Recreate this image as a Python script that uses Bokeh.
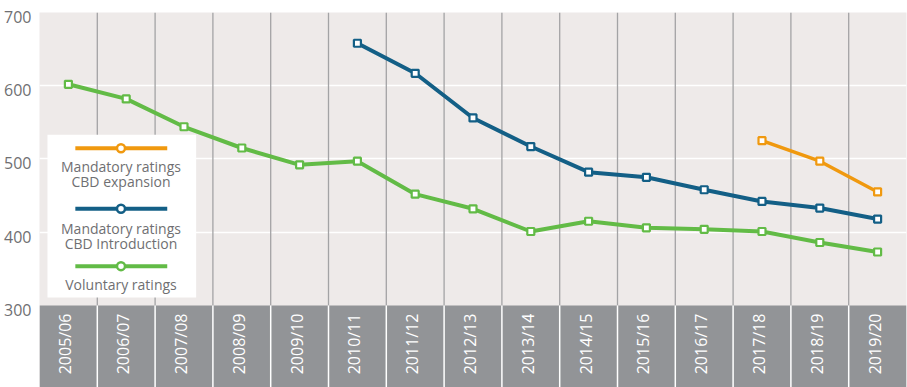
import math
from bokeh.plotting import figure
from bokeh.models import Range1d, FixedTicker, FactorRange
from bokeh.core.properties import value
from bokeh.embed import file_html
from bokeh.resources import INLINE

# ---------------- data ----------------
years = ["2005/06", "2006/07", "2007/08", "2008/09", "2009/10", "2010/11",
         "2011/12", "2012/13", "2013/14", "2014/15", "2015/16", "2016/17",
         "2017/18", "2018/19", "2019/20"]

voluntary_years = years
voluntary = [602, 582, 544, 515, 492, 497, 452, 432, 401, 415, 406, 404, 401, 386, 373]

intro_years = ["2010/11", "2011/12", "2012/13", "2013/14", "2014/15", "2015/16",
               "2016/17", "2017/18", "2018/19", "2019/20"]
cbd_introduction = [658, 617, 556, 517, 482, 475, 458, 442, 433, 418]

expansion_years = ["2017/18", "2018/19", "2019/20"]
cbd_expansion = [525, 497, 455]

y_ticks = [300, 400, 500, 600, 700]
legend_labels = [["Mandatory ratings", "CBD expansion"],
                 ["Mandatory ratings", "CBD Introduction"],
                 ["Voluntary ratings"]]

# ---------------- styles ----------------
GREEN = "#62BB46"
BLUE = "#135F86"
ORANGE = "#F0990F"
BG = "#EEEAE9"
BAND = "#929497"
VGRID = "#A3A3A5"
TXT = "#6F6F72"
FONT = "Open Sans"

Y_MIN_VIS = 300
Y_TOP = 700
Y_BAND_BOTTOM = 188
LABEL_DROP = 6  # tick labels sit a little below their grid line

p = figure(x_range=FactorRange(factors=years),
           y_range=Range1d(Y_BAND_BOTTOM, Y_TOP),
           width=907, height=387,
           output_backend="svg", toolbar_location=None,
           x_axis_location=None,
           min_border_left=39, min_border_right=1,
           min_border_top=12, min_border_bottom=0)
p.background_fill_color = BG
p.border_fill_color = "white"
p.outline_line_color = None

# y axis (labels dropped slightly below the grid lines, as in the source)
label_pos = [t - LABEL_DROP for t in y_ticks]
p.yaxis.ticker = FixedTicker(ticks=label_pos)
p.yaxis.major_label_overrides = {lp: str(t) for lp, t in zip(label_pos, y_ticks)}
p.yaxis.axis_line_color = None
p.yaxis.major_tick_line_color = None
p.yaxis.minor_tick_line_color = None
p.yaxis.major_tick_out = 0
p.yaxis.major_tick_in = 0
p.yaxis.minor_tick_out = 0
p.yaxis.minor_tick_in = 0
p.yaxis.axis_label_standoff = 0
p.yaxis.major_label_standoff = 8
p.yaxis.major_label_text_font = FONT
p.yaxis.major_label_text_font_size = "16px"
p.yaxis.major_label_text_color = TXT

# grids
p.xgrid.visible = False
p.ygrid.ticker = FixedTicker(ticks=[t for t in y_ticks if Y_MIN_VIS < t < Y_TOP])
p.ygrid.grid_line_color = "white"
p.ygrid.grid_line_width = 1.5

n = len(years)
bounds = list(range(1, n))

# category label band
p.quad(left=[0], right=[n], bottom=[Y_BAND_BOTTOM], top=[Y_MIN_VIS],
       fill_color=BAND, line_color=None)
# vertical separators
p.segment(x0=bounds, x1=bounds, y0=[Y_MIN_VIS] * len(bounds), y1=[Y_TOP] * len(bounds),
          line_color=VGRID, line_width=1.3)
p.segment(x0=bounds, x1=bounds, y0=[Y_BAND_BOTTOM] * len(bounds), y1=[Y_MIN_VIS] * len(bounds),
          line_color="white", line_width=1.5)

# category labels (rotated)
p.text(x=years, y=[Y_MIN_VIS - 11] * n, text=years, angle=math.pi / 2,
       text_align="right", text_baseline="middle", x_offset=-3,
       text_color="white", text_font=value(FONT), text_font_size="16px")

# legend box
LEG_L, LEG_R, LEG_B, LEG_T = 0.138, 2.71, 311, 533
p.quad(left=[LEG_L], right=[LEG_R], bottom=[LEG_B], top=[LEG_T],
       fill_color="white", line_color=None)

# series
series = [
    (expansion_years, cbd_expansion, ORANGE, 3.5),
    (intro_years, cbd_introduction, BLUE, 4),
    (voluntary_years, voluntary, GREEN, 4),
]
for xs, ys, col, lw in series:
    p.line(xs, ys, line_color=col, line_width=lw)
    p.scatter(xs, ys, marker="square", size=7, fill_color="white",
              line_color=col, line_width=2.2)

# manual legend
LX0, LX1, LXC = 0.62, 2.21, 1.41
leg_line_y = [514.7, 432.0, 353.7]
leg_text_y = [[490.2, 469.3], [405.5, 384.2], [328.7]]
for (xs, ys, col, lw), ly, labels, tys in zip(series, leg_line_y, legend_labels, leg_text_y):
    p.segment(x0=[LX0], x1=[LX1], y0=[ly], y1=[ly], line_color=col, line_width=4)
    p.scatter([LXC], [ly], marker="circle", size=8, fill_color="white",
              line_color=col, line_width=2.5)
    p.text(x=[LXC] * len(labels), y=tys, text=labels,
           text_align="center", text_baseline="middle",
           text_color=TXT, text_font=value(FONT), text_font_size="14px")

open("out.html", "w").write(file_html(p, INLINE))
